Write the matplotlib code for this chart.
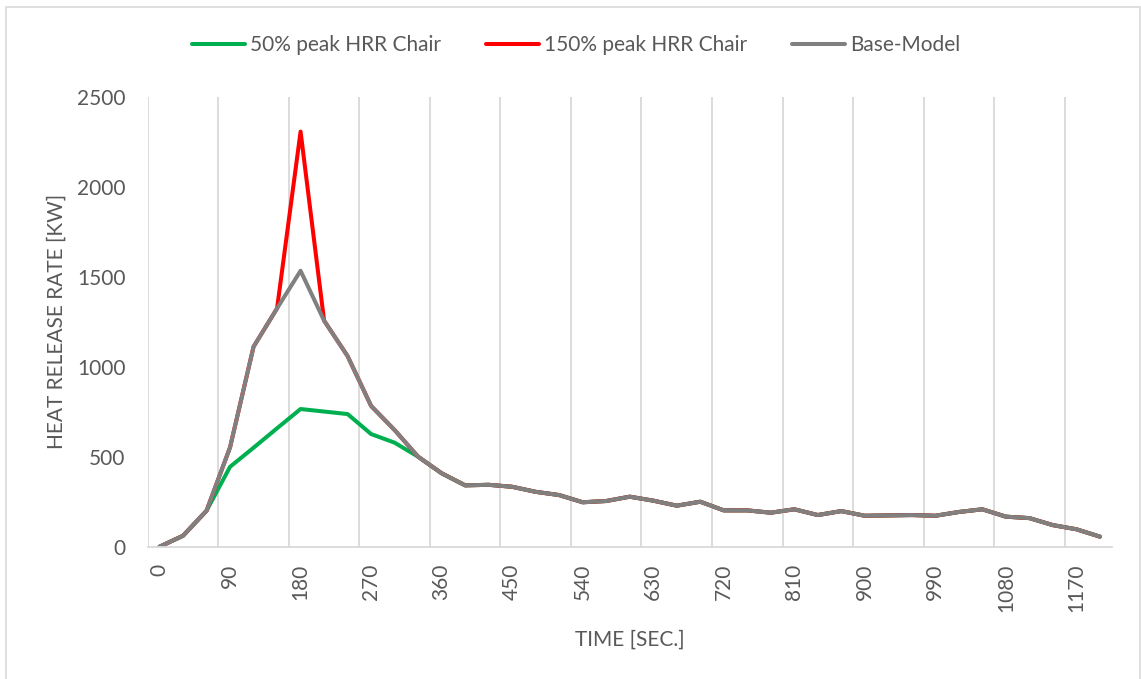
import matplotlib.pyplot as plt
from matplotlib.patches import Rectangle

# time in seconds, one sample every 30 s
time_s = list(range(0, 1201, 30))

base_model = [0, 61, 200, 552, 1111, 1324, 1533, 1256, 1059, 782,
              648, 500, 408, 341, 344, 333, 305, 287, 247, 254,
              278, 256, 228, 250, 202, 202, 189, 208, 176, 198,
              172, 174, 176, 172, 193, 208, 167, 159, 120, 97, 56]

peak_150 = [0, 61, 200, 552, 1111, 1324, 2306, 1256, 1059, 782,
            648, 500, 408, 341, 344, 333, 305, 287, 247, 254,
            278, 256, 228, 250, 202, 202, 189, 208, 176, 198,
            172, 174, 176, 172, 193, 208, 167, 159, 120, 97, 56]

peak_50 = [0, 61, 200, 444, 550, 658, 765, 751, 737, 626,
           578, 500, 408, 341, 344, 333, 305, 287, 247, 254,
           278, 256, 228, 250, 202, 202, 189, 208, 176, 198,
           172, 174, 176, 172, 193, 208, 167, 159, 120, 97, 56]

plt.rcParams["font.family"] = ["Lato", "DejaVu Sans"]
text_color = "#595959"
grid_color = "#D9D9D9"

fig = plt.figure(figsize=(11.41, 6.79), dpi=100)
ax = fig.add_axes([0.1295, 0.1948, 0.9743 - 0.1295, 0.8576 - 0.1948])

idx = list(range(len(time_s)))
ax.plot(idx, peak_50, color="#00B050", lw=2.9, label="50% peak HRR Chair", solid_capstyle="round")
ax.plot(idx, peak_150, color="#FF0000", lw=2.9, label="150% peak HRR Chair", solid_capstyle="round")
ax.plot(idx, base_model, color="#808080", lw=2.9, label="Base-Model", solid_capstyle="round")

ax.set_xlim(-0.5, len(time_s) - 0.5)
ax.set_ylim(0, 2500)
ax.set_yticks(range(0, 2501, 500))

tick_idx = idx[::3]
ax.set_xticks(tick_idx)
ax.set_xticklabels([str(time_s[i]) for i in tick_idx], rotation=90)
for g in [i - 0.5 for i in tick_idx]:
    ax.axvline(g, color=grid_color, lw=1.3, zorder=0)

for s in ["top", "right", "left"]:
    ax.spines[s].set_visible(False)
ax.spines["bottom"].set_color(grid_color)
ax.spines["bottom"].set_linewidth(1.3)
ax.tick_params(length=0, labelsize=15, colors=text_color)
ax.tick_params(axis="y", pad=16)
ax.tick_params(axis="x", pad=12)

ax.set_xlabel("TIME [SEC.]", fontsize=15, color=text_color, va="center")
ax.set_ylabel("HEAT RELEASE RATE [KW]", fontsize=15, color=text_color, va="center")
ax.xaxis.set_label_coords(0.5, -0.207)
ax.yaxis.set_label_coords(-0.095, 0.5)

leg = fig.legend(loc="center", bbox_to_anchor=(0.505, 0.934), ncol=3, frameon=False,
                 fontsize=15, handlelength=2.55, handletextpad=0.25, columnspacing=2.15)
for t in leg.get_texts():
    t.set_color(text_color)

fig.patches.append(Rectangle((6 / 1141, -0.01), 1134 / 1141, 1 - 7 / 679 + 0.01,
                             transform=fig.transFigure, fill=False,
                             edgecolor=grid_color, lw=1.2))

fig.savefig("out.png", dpi=100)
